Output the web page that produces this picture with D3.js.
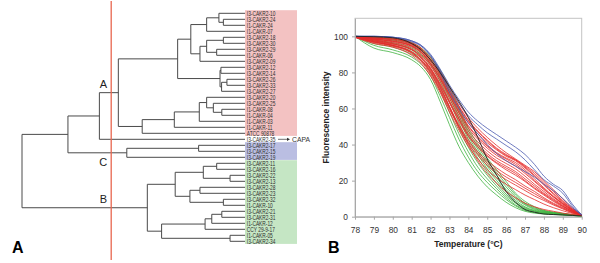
<!DOCTYPE html>
<html>
<head>
<meta charset="utf-8">
<script src="https://cdn.jsdelivr.net/npm/d3@7"></script>
<style>
body{margin:0;background:#fff}
svg{display:block;font-family:Arial,"Liberation Sans",sans-serif}
</style>
</head>
<body>
<svg id="fig" width="600" height="263"></svg>
<script>
// dendrogram leaves, top to bottom
var leaves=["I3-CAKR2-10","I3-CAKR2-24","I1-CAKR-24","I1-CAKR-07","I3-CAKR2-18","I3-CAKR2-30","I3-CAKR2-29","I1-CAKR-06",
 "I3-CAKR2-09","I3-CAKR2-12","I3-CAKR2-14","I3-CAKR2-26","I3-CAKR2-33","I3-CAKR2-27","I3-CAKR2-20","I3-CAKR2-25",
 "I1-CAKR-08","I1-CAKR-04","I1-CAKR-03","I1-CAKR-11","ATCC 90878","I3-CAKR2-35","I3-CAKR2-17","I3-CAKR2-15","I3-CAKR2-19",
 "I3-CAKR2-11","I3-CAKR2-16","I3-CAKR2-22","I3-CAKR2-13","I3-CAKR2-28","I3-CAKR2-23","I3-CAKR2-32","I1-CAKR-10",
 "I3-CAKR2-21","I3-CAKR2-31","I1-CAKR-12","CCY 29-9-17","I1-CAKR-05","I3-CAKR2-34"];
// merges: [child, child, height]; index >= 39 means merge (index-39)
var merges=[[1,2,9.7],[0,39,11.7],[40,3,17.2],[4,5,9.7],[6,7,12.7],[42,43,17.2],[44,8,20.2],[41,45,24.3],
 [9,10,10.8],[11,12,8.1],[48,13,10.5],[47,49,11.2],[46,50,30.2],[16,17,10.4],[15,52,14.2],[14,53,17.2],
 [54,18,20.5],[55,19,31.7],[56,20,46.1],[51,57,56.8],[58,21,65.3],[22,23,20.8],[60,24,53.0],[59,61,79.4],
 [25,26,12.7],[27,28,6.7],[63,64,18.7],[29,30,20.2],[31,32,9.7],[66,67,24.7],[65,68,31.3],[33,34,10.4],
 [70,35,14.9],[71,36,17.9],[37,38,6.7],[72,73,37.4],[69,74,43.8],[62,75,100]];
var cutHeight=60;
var groupName=["A","","C","B"];
var groupFirst=[0,21,22,25];
var groupLast=[20,21,24,38];
var clusterNode={A:58,C:61,B:75};

// melting curves
var temps=[78,79,80,81,81.5,82,82.5,83,83.5,84,84.5,85,85.5,86,86.5,87,87.5,88,88.5,89,89.5,90];
var greenCurves=[
 [100,93.5,91,87,83,76,64,51,39,30,22.5,16.5,12,8,5,3,2,1.5,1.2,1,0.7,0.3],
 [100,95,92.5,88.5,84.5,78,67,55,43,33,25,19,14,9.5,6,3.5,2.3,1.7,1.3,1,0.7,0.3],
 [100,96,94,90,86.5,80,70,58,46,36,27.5,21,15.5,10.5,6.5,4,2.6,1.9,1.4,1.1,0.8,0.3],
 [100,97,95,91.5,88,82,72.5,61,49,38.5,30,23,17,11.5,7.5,4.5,3,2.1,1.6,1.2,0.8,0.3],
 [100,97.5,96,92.5,89.5,84,75,64,52,41,32.5,25,18.5,12.5,8,5,3.2,2.3,1.7,1.3,0.9,0.4],
 [100,98,96.5,93.5,90,85,76.5,66,54.5,43,34.5,26.5,20,14,9,5.5,3.5,2.5,1.8,1.3,0.9,0.4],
 [100,98.5,97.5,94.5,91,86,78,67.5,56,44.5,36,28,21.5,15,10,6.5,4,2.8,2,1.5,1,0.4],
 [100,99,98,95.5,92,87,79.5,69,58,46,37.5,29.5,23,16.5,11,7,4.5,3,2.2,1.6,1,0.4],
 [100,99.5,98.5,96,93,88,80.5,70.5,59.5,47.5,39,31,24.5,18,12,7.5,5,3.3,2.4,1.7,1.1,0.4],
 [100,99.5,99,96.5,93.5,88.5,81.5,72,61,49,40.5,32.5,26,19.5,13,8.5,5.5,3.5,2.5,1.8,1.1,0.4]
];
var redCurves=[
 [100,99.5,99,96.5,93.5,88,81,72,63,55,49,44,39.5,35.5,32,28.5,25,20,15,10,5,1],
 [100,99,98.5,96,93,87,80,70.5,61.5,53.5,47.5,42.5,38,34.5,31.5,28,24,19,14,9,4.5,1],
 [100,99,98.5,95.8,92.5,86.5,79,69.5,61,53,47,42,37.5,34,31.5,27.5,23,18,13,8.5,4.2,1],
 [100,99,98,95.5,92,86,78.5,69,60,52,46,41,37,33.5,31,27,22.5,17.5,12.5,8,4,1],
 [100,98.5,97.5,95,91.5,85,77.5,68,59,50.5,44.5,39.5,35.5,32.5,30,26,21,16,11.5,7.5,3.8,0.9],
 [100,98.5,97.2,94.8,91.2,84.8,77,67.5,58,50,44,39,35,32,29,25,20,15.5,11,7.2,3.6,0.9],
 [100,98.5,97,94.5,91,84.5,76.5,67,57.5,49,43,38,34,31,28,24,19.5,15,11,7,3.5,0.9],
 [100,98,96.5,94,90,83.5,75.5,65.5,56,47.5,41.5,36.5,32.5,29.5,26.5,22.5,18,14,10,6.5,3.2,0.9],
 [100,98,96,93,89,82.5,74,64,54.5,46,40,35,31,28,25,21,17,13,9.5,6,3,0.8],
 [100,97.5,95.8,92.8,88.5,82,73.5,63.5,54,45,39,34,30,27,24,20,16,12.5,9,5.8,2.9,0.8],
 [100,97.5,95.5,92.5,88,81.5,73,63,53,44.5,38.5,33.5,29.5,26,23,19.5,15.5,12,8.5,5.5,2.8,0.8],
 [99.5,97,95,91.5,87,80.5,71.5,61,51,42.5,36,31,27,23.5,20.5,17,14,10.5,7.5,5,2.5,0.8],
 [99.5,96.8,94.8,91,86.5,79.8,70.8,60.2,50.2,41.5,35,29.8,25.5,22,19,15.8,12.8,9.8,7,4.6,2.3,0.8],
 [99.5,96.5,94.5,90.5,86,79,70,59.5,49.5,40.5,34,28.5,24,20.5,17.5,14.5,11.5,9,6.5,4.3,2.2,0.8],
 [99.5,96,94,89.5,85,78,69,58,48,39,32,26,21.5,18,15,12,9.5,7,5,3.3,1.8,0.7],
 [100,97,95,91,87,81,72,61,50,40,31,24,18.5,14,10.5,7.5,5.5,4,3,2,1.2,0.5]
];
var blueCurves=[
 [100,100,99.5,97.5,95,90,82,73,65,58,53,49,45.5,42,38.5,34.5,29,22.5,18,14.5,7,1],
 [100,100,99.5,97.5,95,89.5,81,71,63,56,51,46.5,43,39.5,36,31.5,26,20.5,17,13,6,1],
 [100,100,99.5,97,94.5,89,80,69,60,52,46,40,35,31,28,25,22,18,14.5,10,5,1]
];
var capaCurve=[100,99.8,99.2,96,92.5,87,80,72,64,55,44,32,23,14,8,4,2.5,1.5,1.2,1,0.7,0.4];
var xTicks=d3.range(78,91);
var yTicks=[0,20,40,60,80,100];

var svg=d3.select("#fig");

// ---- dendrogram ----
var yLeaf=d3.scalePoint().domain(d3.range(leaves.length)).range([13.3,241.3]);
var xTree=d3.scaleLinear().domain([0,100]).range([245,22]);
var boxColor={A:"#f3c2c2",C:"#babee2",B:"#c5e6c4"};

groupName.forEach(function(g,i){
  if(!g) return;
  svg.append("rect")
    .attr("x",xTree(0)).attr("width",52)
    .attr("y",yLeaf(groupFirst[i])-3.1)
    .attr("height",yLeaf(groupLast[i])-yLeaf(groupFirst[i])+5.7)
    .attr("fill",boxColor[g]);
});

var nodes=leaves.map(function(l,i){return {y:yLeaf(i),h:0};});
merges.forEach(function(m){
  var a=nodes[m[0]],b=nodes[m[1]];
  nodes.push({y:(a.y+b.y)/2,h:m[2],a:a,b:b});
});
var tree=svg.append("g").attr("fill","none").attr("stroke","#4a4a4a").attr("stroke-width",1);
nodes.forEach(function(n){
  if(!n.a) return;
  tree.append("path").attr("d","M"+xTree(n.a.h)+","+n.a.y+"H"+xTree(n.h)+"V"+n.b.y+"H"+xTree(n.b.h));
});

var lab=svg.append("g").attr("font-size",6.7).attr("fill","#2e2e2e");
leaves.forEach(function(l,i){
  lab.append("text")
    .attr("transform","translate("+(xTree(0)+1.8)+","+(yLeaf(i)+2.4)+") scale(0.72,1)")
    .text(l);
});
// CAPA annotation
var capaY=yLeaf(21), ax=xTree(0)+33;
svg.append("path").attr("d","M"+ax+","+capaY+"h10").attr("stroke","#333").attr("stroke-width",0.7);
svg.append("path").attr("d","M"+(ax+12)+","+capaY+"l-3,-1.6v3.2z").attr("fill","#333");
svg.append("text").attr("x",ax+14).attr("y",capaY+2.4).attr("font-size",6.8).attr("fill","#333").text("CAPA");

// cut line
svg.append("line").attr("x1",xTree(cutHeight)).attr("x2",xTree(cutHeight)).attr("y1",1).attr("y2",260)
  .attr("stroke","#e8664f").attr("stroke-width",1.3);

// cluster letters
var cx=xTree(cutHeight)-4;
svg.append("text").attr("x",cx).attr("y",nodes[clusterNode.A].y-5).attr("text-anchor","end").attr("font-size",11).attr("fill","#222").text("A");
svg.append("text").attr("x",cx).attr("y",nodes[clusterNode.C].y+13).attr("text-anchor","end").attr("font-size",11).attr("fill","#222").text("C");
svg.append("text").attr("x",cx).attr("y",nodes[clusterNode.B].y-5).attr("text-anchor","end").attr("font-size",11).attr("fill","#222").text("B");

svg.append("text").attr("x",12).attr("y",253).attr("font-size",16).attr("font-weight","bold").text("A");

// ---- melting curves ----
var xT=d3.scaleLinear().domain([78,90]).range([355,581.7]);
var yF=d3.scaleLinear().domain([0,110]).range([216.7,18.3]);

svg.append("rect").attr("x",xT(78)).attr("y",yF(110)).attr("width",xT(90)-xT(78)).attr("height",yF(0)-yF(110))
  .attr("fill","none").attr("stroke","#c4c4c4").attr("stroke-width",1);

var line=d3.line().x(function(d,i){return xT(temps[i]);}).y(function(d){return yF(d);}).curve(d3.curveMonotoneX);
function drawSet(set,col,w){
  svg.append("g").selectAll("path").data(set).enter().append("path")
    .attr("d",line).attr("fill","none").attr("stroke",col).attr("stroke-width",w);
}
drawSet(greenCurves,"#3fb23f",0.8);
drawSet(redCurves,"#e52a2a",0.8);
drawSet(blueCurves,"#4b5bb0",0.8);
drawSet([capaCurve],"#222",0.9);

var gx=svg.append("g").attr("transform","translate(0,"+yF(0)+")")
  .call(d3.axisBottom(xT).tickValues(xTicks).tickSize(3).tickSizeOuter(0).tickPadding(7));
var gy=svg.append("g").attr("transform","translate("+xT(78)+",0)")
  .call(d3.axisLeft(yF).tickValues(yTicks).tickSize(3).tickSizeOuter(0).tickPadding(4));
[gx,gy].forEach(function(g){
  g.select(".domain").attr("stroke","#a8a8a8");
  g.selectAll(".tick line").attr("stroke","#a8a8a8");
  g.selectAll(".tick text").attr("font-size",8.4).attr("fill","#333").attr("font-family","Arial,'Liberation Sans',sans-serif");
});

svg.append("text").attr("x",(xT(78)+xT(90))/2).attr("y",247).attr("text-anchor","middle")
  .attr("font-size",8.5).attr("font-weight","bold").attr("fill","#222").text("Temperature (°C)");
svg.append("text").attr("transform","translate(329,"+yF(55)+") rotate(-90)").attr("text-anchor","middle")
  .attr("font-size",8.5).attr("font-weight","bold").attr("fill","#222").text("Fluorescence intensity");

svg.append("text").attr("x",328).attr("y",253).attr("font-size",16).attr("font-weight","bold").text("B");
</script>
</body>
</html>
